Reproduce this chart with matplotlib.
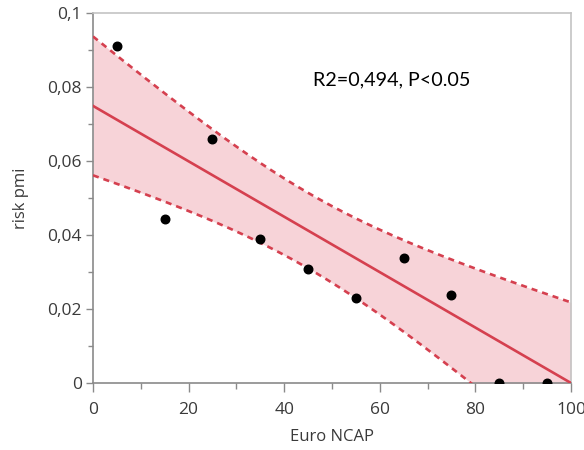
import numpy as np
import matplotlib
matplotlib.use("Agg")
import matplotlib.pyplot as plt
from matplotlib.ticker import FixedLocator, MultipleLocator

# --- data ---
euro_ncap = [5, 15, 25, 35, 45, 55, 65, 75, 85, 95]
risk_pmi = [0.0911, 0.0443, 0.0660, 0.0389, 0.0308, 0.0230, 0.0338, 0.0238, 0.0, 0.0]

# regression line and confidence band parameters (as shown in the chart)
fit_intercept = 0.0749
fit_slope = -0.000749
band_center = 45.0
band_min_half = 0.0102
band_spread = 0.000350

x_ticks = [0, 20, 40, 60, 80, 100]
x_tick_labels = ["0", "20", "40", "60", "80", "100"]
y_ticks = [0, 0.02, 0.04, 0.06, 0.08, 0.1]
y_tick_labels = ["0", "0,02", "0,04", "0,06", "0,08", "0,1"]
annotation = "R2=0,494, P<0.05"
x_label = "Euro NCAP"
y_label = "risk pmi"

red = "#d5404f"
fill = "#f7d3d8"

fig = plt.figure(figsize=(5.84, 4.5), dpi=100)
ax = fig.add_axes([0.1592, 0.1489, 0.8185, 0.8222])

xs = np.linspace(0, 100, 201)
line = fit_intercept + fit_slope * xs
half = np.sqrt(band_min_half ** 2 + (band_spread * (xs - band_center)) ** 2)
ax.fill_between(xs, line - half, line + half, color=fill, lw=0, zorder=1)
ax.plot(xs, line, color=red, lw=1.9, zorder=3)
ax.plot(xs, line + half, color=red, lw=1.9, dashes=(2.3, 1.9), zorder=3)
ax.plot(xs, line - half, color=red, lw=1.9, dashes=(2.3, 1.9), zorder=3)
ax.scatter(euro_ncap, risk_pmi, s=38, color="black", zorder=4)

ax.set_xlim(0, 100)
ax.set_ylim(0, 0.1)

ax.xaxis.set_major_locator(FixedLocator(x_ticks))
ax.set_xticklabels(x_tick_labels)
ax.yaxis.set_major_locator(FixedLocator(y_ticks))
ax.set_yticklabels(y_tick_labels)
ax.xaxis.set_minor_locator(MultipleLocator(10))
ax.yaxis.set_minor_locator(MultipleLocator(0.01))

tick_font = "Open Sans"
for lab in ax.get_xticklabels() + ax.get_yticklabels():
    lab.set_fontfamily(tick_font)
    lab.set_fontsize(12.5)
    lab.set_color("#3a3a3a")

ax.tick_params(axis="x", which="major", direction="out", length=6.5, width=1, color="#8a8a8a", pad=7)
ax.tick_params(axis="x", which="minor", direction="out", length=4.5, width=1, color="#8a8a8a")
ax.tick_params(axis="y", which="major", direction="out", length=5, width=1, color="#8a8a8a", pad=3)
ax.tick_params(axis="y", which="minor", direction="out", length=3.5, width=1, color="#8a8a8a")

for s in ["left", "bottom"]:
    ax.spines[s].set_color("#8a8a8a")
    ax.spines[s].set_linewidth(1.2)
for s in ["top", "right"]:
    ax.spines[s].set_color("#c4c4c4")
    ax.spines[s].set_linewidth(1.2)

ax.set_xlabel(x_label, fontfamily=tick_font, fontsize=12, color="#3a3a3a", labelpad=8)
ax.set_ylabel(y_label, fontfamily=tick_font, fontsize=12, color="#3a3a3a", labelpad=13)

ax.text(46.0, 0.0819, annotation, fontfamily="Lato", fontsize=14.2, color="black",
        ha="left", va="center", zorder=5)

fig.savefig("out.png", dpi=100)
